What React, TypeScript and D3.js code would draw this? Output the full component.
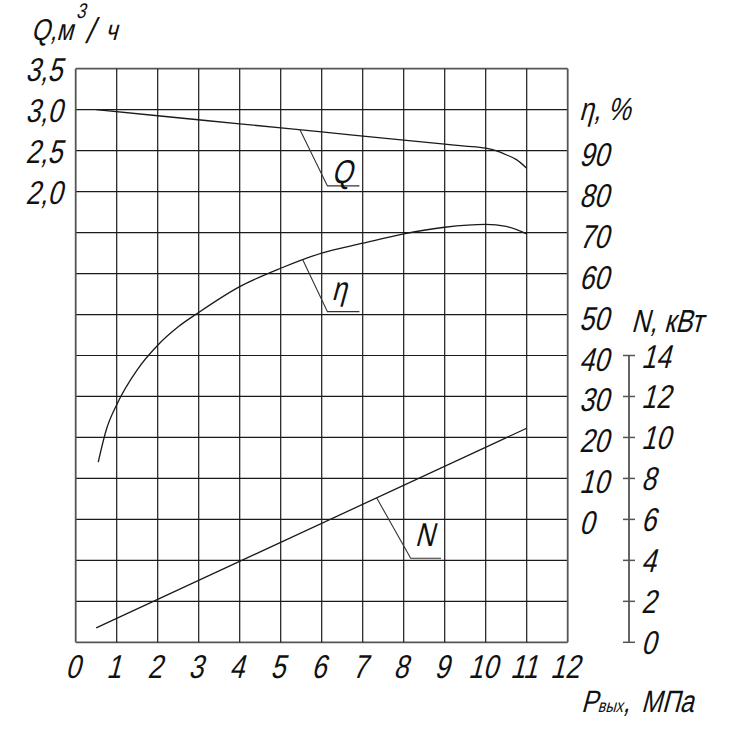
import { useRef, useEffect } from 'react';
import * as d3 from 'd3';

// Pump characteristic: capacity Q, efficiency η and power N vs outlet pressure
const pressureTicks = d3.range(0, 13);
const qTicks = [3.5, 3.0, 2.5, 2.0];
const etaTicks = [0, 10, 20, 30, 40, 50, 60, 70, 80, 90];
const nTicks = [0, 2, 4, 6, 8, 10, 12, 14];

const qPressure = [0.5, 2, 4, 6, 8, 9, 9.5, 10, 10.25, 10.5, 10.75, 11];
const qValues = [3.0, 2.926, 2.827, 2.728, 2.629, 2.58, 2.556, 2.53, 2.5, 2.45, 2.39, 2.285];

const etaPressure = [0.55, 0.75, 1, 1.5, 2, 2.5, 3, 4, 5, 6, 7, 8, 9, 10, 10.5, 11];
const etaValues = [14, 22, 28, 36.5, 42.5, 47, 50.5, 56.8, 61.3, 65, 67.4, 69.7, 71.3, 72, 71.5, 69.7];

const nPressure = [0.5, 11];
const nValues = [0.7, 10.45];

const FONT = '"Liberation Sans", Arial, sans-serif';

export default function App() {
  const svgRef = useRef<SVGSVGElement>(null);

  useEffect(() => {
    if (!svgRef.current) return;
    const svg = d3.select(svgRef.current);
    svg.selectAll('*').remove();

    const left = 75.7, right = 567.7, top = 68.7, bottom = 642.3;
    const rows = 14;

    const x = d3.scaleLinear().domain([0, 12]).range([left, right]);
    const row = d3.scaleLinear().domain([0, rows]).range([top, bottom]);
    // each quantity gets its own scale on the shared grid
    const yQ = d3.scaleLinear().domain([3.5, 2.0]).range([row(0), row(3)]);
    const yEta = d3.scaleLinear().domain([0, 90]).range([row(11), row(2)]);
    const yN = d3.scaleLinear().domain([0, 14]).range([row(14), row(7)]);

    const g = svg.append('g');

    // Grid
    d3.range(0, rows + 1).forEach(i => {
      const edge = i === 0 || i === rows;
      g.append('line')
        .attr('x1', left).attr('x2', right)
        .attr('y1', row(i)).attr('y2', row(i))
        .attr('stroke', edge ? '#555' : '#1a1a1a')
        .attr('stroke-width', edge ? 1.8 : 1.2);
    });
    pressureTicks.forEach(t => {
      const edge = t === 0 || t === 12;
      g.append('line')
        .attr('x1', x(t)).attr('x2', x(t))
        .attr('y1', top).attr('y2', bottom)
        .attr('stroke', edge ? '#555' : '#1a1a1a')
        .attr('stroke-width', edge ? 1.8 : 1.2);
    });

    // drafting-style lettering: narrow and slanted
    const text = (tx: number, ty: number, s: string, size: number, anchor = 'start') =>
      g.append('text')
        .attr('transform', `translate(${tx},${ty}) skewX(-15) scale(0.8,1)`)
        .attr('font-family', FONT)
        .attr('font-size', size)
        .attr('text-anchor', anchor)
        .attr('fill', '#111')
        .text(s);

    // Bottom axis labels
    pressureTicks.forEach(t => text(x(t) - 3, 678, String(t), 33, 'middle'));

    // Q axis labels
    qTicks.forEach(v => text(62, yQ(v) + 12, d3.format('.1f')(v).replace('.', ','), 33, 'end'));

    // η axis labels
    etaTicks.forEach(v => text(579, yEta(v) + 15, String(v), 33));

    // N axis
    const nAxisX = 629;
    g.append('line')
      .attr('x1', nAxisX).attr('x2', nAxisX)
      .attr('y1', yN(14)).attr('y2', yN(0))
      .attr('stroke', '#555').attr('stroke-width', 1.8);
    nTicks.forEach(v => {
      g.append('line')
        .attr('x1', nAxisX - 6).attr('x2', nAxisX + 6)
        .attr('y1', yN(v)).attr('y2', yN(v))
        .attr('stroke', '#555').attr('stroke-width', 1.5);
      text(641, yN(v) + 12, String(v), 33);
    });

    // Titles
    text(31, 40, 'Q,м', 30);
    text(76, 18, '3', 21);
    text(85, 43, '/', 36);
    text(105, 40, 'ч', 29);
    text(579, 120, 'η, %', 32);
    text(631, 332, 'N, кВт', 32);
    const px = text(581, 712, 'Р', 31);
    px.append('tspan').attr('font-size', 18).text('вых');
    px.append('tspan').text(',');
    text(641, 712, 'МПа', 31);

    // Curves
    const series = [
      { name: 'Q', xs: qPressure, ys: qValues, y: yQ },
      { name: 'η', xs: etaPressure, ys: etaValues, y: yEta },
      { name: 'N', xs: nPressure, ys: nValues, y: yN },
    ];
    series.forEach(s => {
      const line = d3.line<number>()
        .x((_, i) => x(s.xs[i]))
        .y(d => s.y(d))
        .curve(d3.curveMonotoneX);
      g.append('path')
        .attr('d', line(s.ys))
        .attr('fill', 'none')
        .attr('stroke', '#1a1a1a')
        .attr('stroke-width', 1.3);
    });

    // Leader callouts (elbow in the series' units)
    const callouts = [
      { name: 'Q', at: 5.47, elbowX: 6.14, elbowY: 2.07, endX: 6.92, dy: -3 },
      { name: 'η', at: 5.54, elbowX: 6.14, elbowY: 50.7, endX: 6.92, dy: -12 },
      { name: 'N', at: 7.34, elbowX: 8.17, elbowY: 4.1, endX: 8.91, dy: -12 },
    ];
    callouts.forEach(c => {
      const s = series.find(d => d.name === c.name)!;
      const interp = d3.scaleLinear().domain(s.xs).range(s.ys);
      const p0 = [x(c.at), s.y(interp(c.at))];
      const p1 = [x(c.elbowX), s.y(c.elbowY)];
      const p2 = [x(c.endX), s.y(c.elbowY)];
      g.append('path')
        .attr('d', d3.line()([p0, p1, p2] as [number, number][]))
        .attr('fill', 'none')
        .attr('stroke', '#333')
        .attr('stroke-width', 1.1);
      text(p1[0] + 4, p1[1] + c.dy, c.name, 33);
    });
  }, []);

  return (
    <svg
      ref={svgRef}
      width={731}
      height={730}
      style={{ position: 'absolute', left: 0, top: 0, background: '#fff' }}
    />
  );
}
